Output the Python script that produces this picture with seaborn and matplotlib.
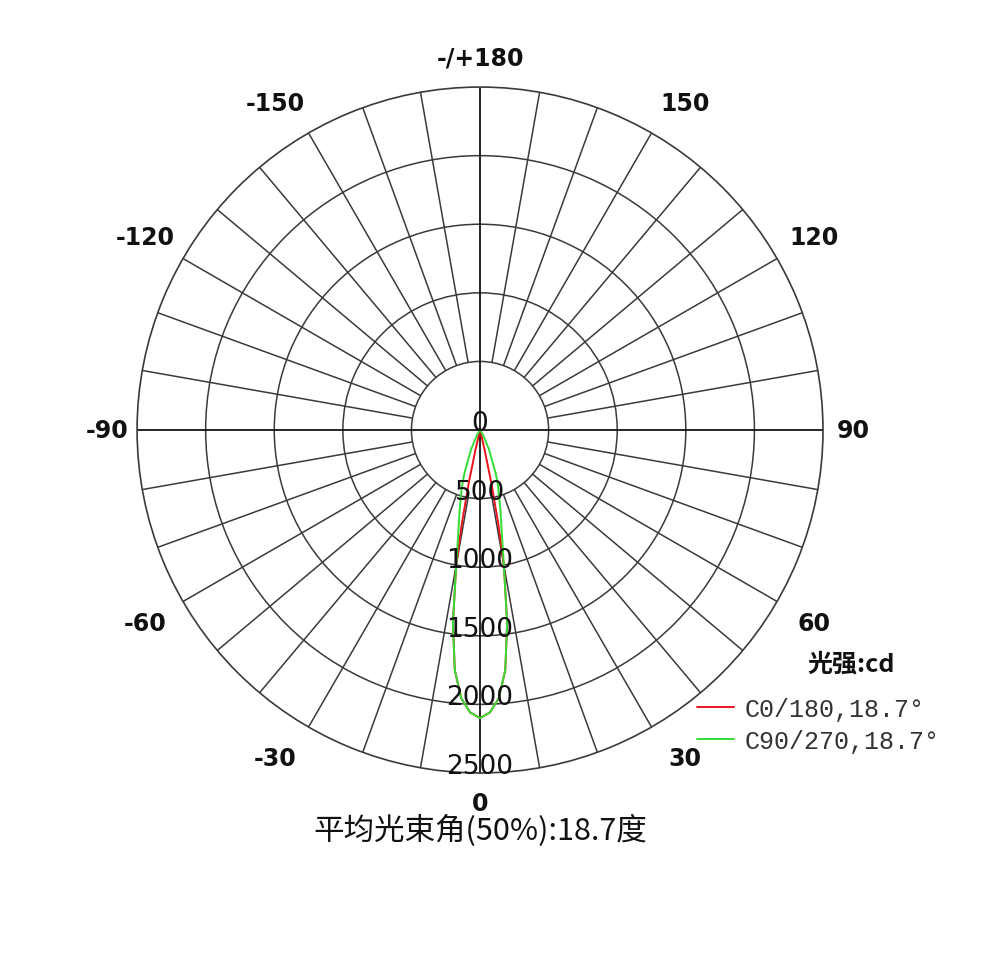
import matplotlib
matplotlib.use('Agg')
import matplotlib.pyplot as plt
import numpy as np
import pandas as pd
import seaborn as sns

# gamma angle (deg) vs luminous intensity (cd); lobe is symmetric
gamma_c0 = [0, 2, 4, 6, 8, 10, 11, 12, 13, 14, 20, 40, 60, 90]
cd_c0 = [2100, 2060, 1960, 1760, 1420, 1000, 700, 400, 150, 0, 0, 0, 0, 0]
gamma_c90 = [0, 2, 4, 6, 8, 10, 12, 14, 16, 18, 20, 25, 30, 35, 40, 60, 90]
cd_c90 = [2100, 2060, 1960, 1760, 1420, 1000, 760, 620, 510, 420, 330, 150, 50, 10, 0, 0, 0]

plane_labels = ['C0/180,18.7°', 'C90/270,18.7°']
plane_colors = ['#e8141c', '#33dd33']
ring_values = [0, 500, 1000, 1500, 2000, 2500]
angle_ticks = [0, 30, 60, 90, 120, 150, 180, 210, 240, 270, 300, 330]
angle_labels = ['0', '30', '60', '90', '120', '150', '-/+180',
                '-150', '-120', '-90', '-60', '-30']
caption = '平均光束角(50%):18.7度'
legend_title = '光强:cd'

sns.set_theme(style='white')
plt.rcParams['font.family'] = ['DejaVu Sans', 'Noto Sans CJK SC']
CJK = ['Noto Sans CJK SC', 'DejaVu Sans']


def mirrored(gamma, cd, label):
    g = np.array(gamma, dtype=float)
    c = np.array(cd, dtype=float)
    theta = np.concatenate([-g[::-1], g[1:]])
    vals = np.concatenate([c[::-1], c[1:]])
    return pd.DataFrame({'theta': np.deg2rad(theta), 'cd': vals, 'plane': label})


df = pd.concat([mirrored(gamma_c0, cd_c0, plane_labels[0]),
                mirrored(gamma_c90, cd_c90, plane_labels[1])], ignore_index=True)

fig = plt.figure(figsize=(9.85, 9.54), dpi=100)
ax = fig.add_axes([0.1391, 0.1887, 0.6965, 0.719], projection='polar')
ax.set_theta_zero_location('S')
ax.set_theta_direction(1)

# grid: rings, 10-degree spokes from the 500 ring outward, and the main cross
grid_col = '#3a3a3a'
rmax = ring_values[-1]
ax.set_rticks(ring_values[1:-1])
ax.set_yticklabels([])
ax.yaxis.grid(True, color=grid_col, lw=1.1)
ax.set_xticks(np.deg2rad(angle_ticks))
ax.set_xticklabels([])
ax.xaxis.grid(False)
spokes = [a for a in range(0, 360, 10) if a % 90 != 0]
ax.vlines(np.deg2rad(spokes), 500, rmax, colors=grid_col, lw=1.1, zorder=1)
ax.vlines(np.deg2rad([0, 90, 180, 270]), 0, rmax, colors='black', lw=1.2, zorder=1)
ax.spines['polar'].set_color(grid_col)
ax.spines['polar'].set_linewidth(1.2)
ax.set_ylim(0, rmax)

sns.lineplot(data=df, x='theta', y='cd', hue='plane', palette=plane_colors,
             sort=False, estimator=None, lw=1.4, ax=ax, zorder=3)
ax.set_xlabel('')
ax.set_ylabel('')

# angle labels sit a little further out on the diagonals
for a, lab in zip(angle_ticks, angle_labels):
    t = np.deg2rad(a)
    r_lab = rmax * (1.087 + 0.045 * abs(np.sin(2 * t)))
    nudge = 2.3 * np.sin(2 * t) if abs(np.cos(t)) > 0.7 else 0.0
    ax.text(np.deg2rad(a + nudge), r_lab, lab, ha='center', va='center',
            fontsize=17, fontweight='bold', color='#111111', clip_on=False)

for r in ring_values:
    ax.text(0, r, str(r), ha='center', va='baseline', fontsize=19,
            color='#111111', zorder=4)

sns.move_legend(ax, 'upper left', bbox_to_anchor=(0.7076, 0.2683),
                bbox_transform=fig.transFigure, frameon=False, title=None,
                prop={'family': 'Liberation Mono', 'size': 18},
                handlelength=1.5, handletextpad=0.4, labelspacing=0.32,
                borderpad=0, borderaxespad=0)
for t in ax.get_legend().get_texts():
    t.set_color('#333333')
fig.text(851 / 985, 1 - 665 / 954, legend_title, ha='center', va='center',
         fontsize=18, fontweight='bold', family=CJK, color='#111111')

fig.text(0.4873, 1 - 831 / 954, caption, ha='center', va='center',
         fontsize=22, family=CJK, color='#111111')

fig.savefig('out.png', dpi=100, facecolor='white')
